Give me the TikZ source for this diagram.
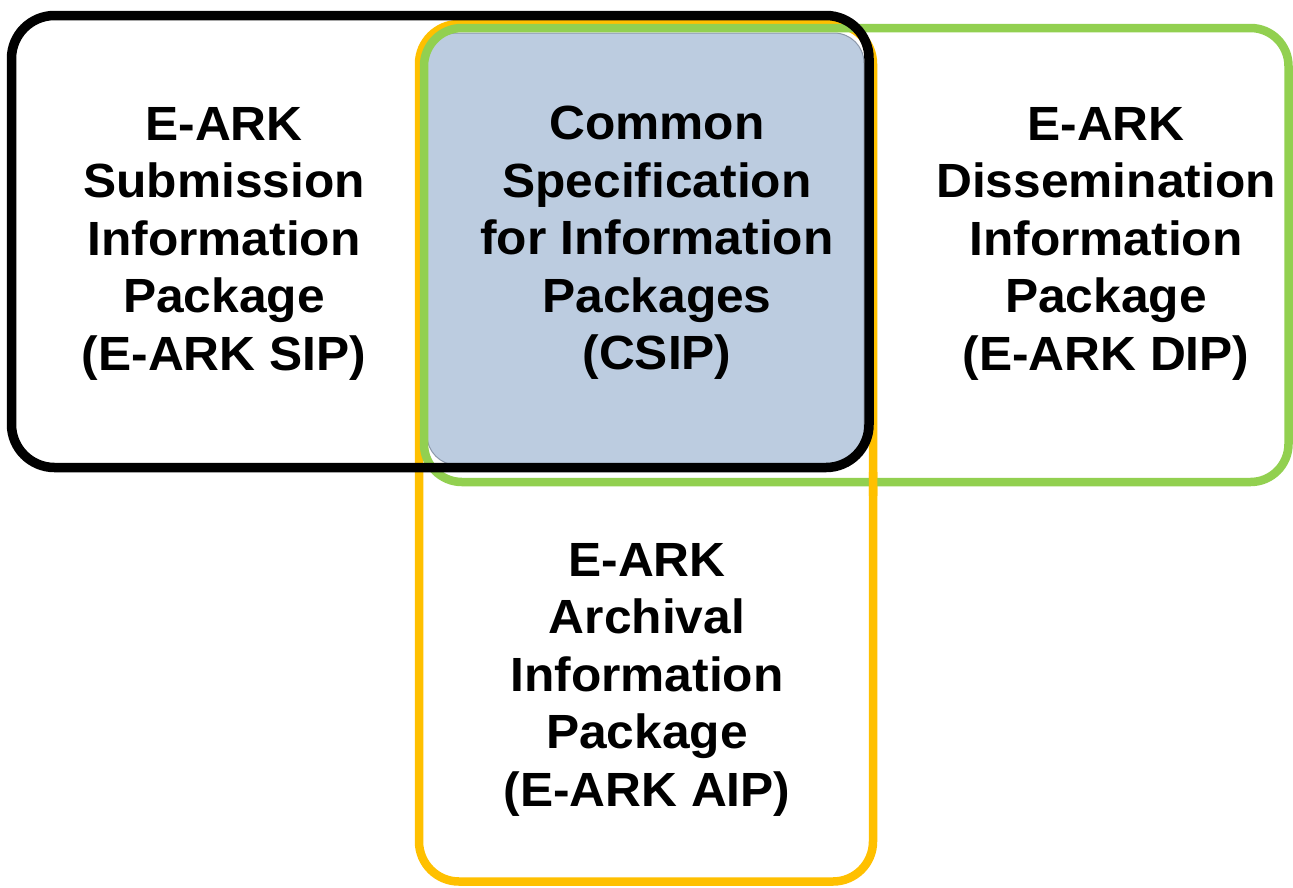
\documentclass[tikz,border=0pt]{standalone}
\usepackage{fontspec}
\setmainfont[FakeStretch=1.035]{Liberation Sans}
\definecolor{eyellow}{RGB}{255,192,0}
\definecolor{egreen}{RGB}{146,208,80}
\definecolor{eblue}{RGB}{188,204,224}
\definecolor{eborder}{RGB}{140,152,170}
\tikzset{
  frame/.style={line width=#1, rounded corners=40pt},
  label/.style={anchor=north, inner sep=0pt, align=center,
    font=\fontsize{48}{57.5}\selectfont\bfseries, text=black},
}
\begin{document}
\begin{tikzpicture}[x=1pt,y=-1pt]
\useasboundingbox (0,0) rectangle (1293,887);
\fill[white] (0,0) rectangle (1293,887);
% CSIP shaded core
\draw[fill=eblue, draw=eborder, line width=1pt, rounded corners=30pt] (427,33) rectangle (864,465);
% AIP frame
\draw[frame=8.5pt, draw=eyellow] (419,24) rectangle (873,881.5);
% DIP frame
\draw[frame=8.5pt, draw=egreen, rounded corners=38pt] (424,28) rectangle (1288.5,482);
% AIP frame over DIP frame at lower right crossing
\begin{scope}
  \clip (860,472) rectangle (890,495);
  \draw[frame=8.5pt, draw=eyellow] (419,24) rectangle (873,881.5);
\end{scope}
% SIP frame
\draw[frame=9.5pt, draw=black, rounded corners=43pt] (11.5,15.5) rectangle (869,467.5);
% texts
\node[label] (sip) at (224,107) {E-ARK\\Submission\\Information\\Package\\(E-ARK SIP)};
\node[label] (csip) at (657,106) {Common\\Specification\\for Information\\Packages\\(CSIP)};
\node[label] (dip) at (1106,107) {E-ARK\\Dissemination\\Information\\Package\\(E-ARK DIP)};
\node[label] (aip) at (647,543) {E-ARK\\Archival\\Information\\Package\\(E-ARK AIP)};
\end{tikzpicture}
\end{document}
